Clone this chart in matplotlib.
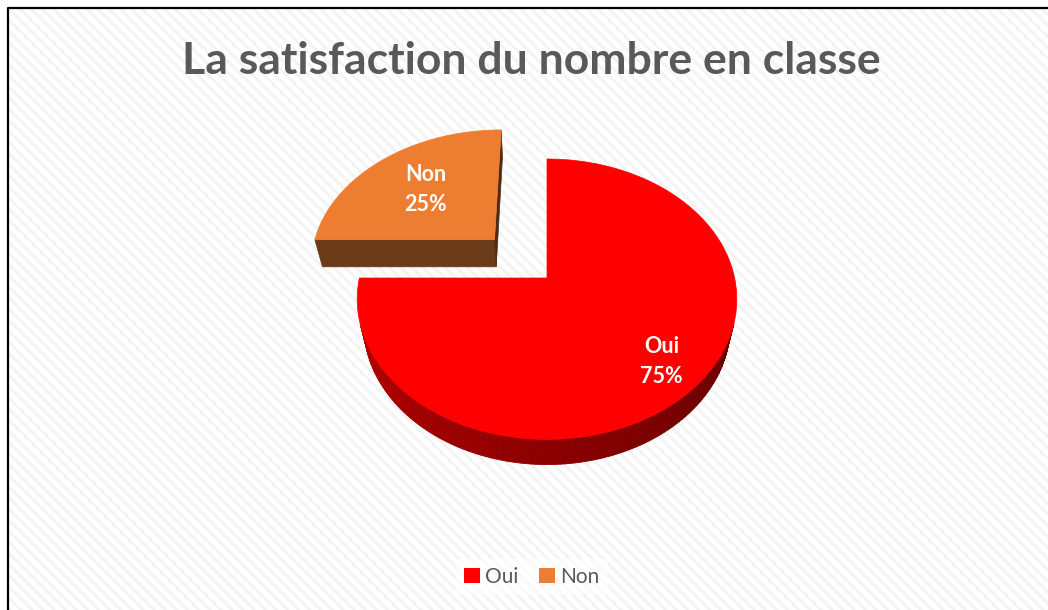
import numpy as np
import matplotlib
matplotlib.use("Agg")
import matplotlib.pyplot as plt
from matplotlib.patches import Polygon, Rectangle, Patch

# ---- data ----
categories = ["Oui", "Non"]
values = [75, 25]
colors = ["#FF0000", "#ED7D31"]
explode = [0.0, 0.413]
title = "La satisfaction du nombre en classe"

# ---- style ----
plt.rcParams["hatch.linewidth"] = 2.0
TITLE_COLOR = "#595959"
FONT = "Lato"

fig = plt.figure(figsize=(10.48, 6.10), dpi=100)
ax = fig.add_axes([0, 0, 1, 1])
ax.set_xlim(0, 1048)
ax.set_ylim(610, 0)
ax.axis("off")

# background with diagonal stripes
bg = Rectangle((8, 8), 1100, 700, facecolor="white", edgecolor="#F3F3F3",
               hatch="\\\\\\", lw=0, zorder=0)
ax.add_patch(bg)
ax.plot([8, 8, 1048], [610, 8, 8], color="black", lw=1.6, zorder=1,
        solid_capstyle="butt")

# ---- simple perspective camera ----
elev = np.deg2rad(46.9)
D, F, H = 4.52, 848.0, 0.218
cx, cy = 547.0, 278.0
cam = np.array([0.0, -D * np.cos(elev), D * np.sin(elev)])
fwd = np.array([0.0, np.cos(elev), -np.sin(elev)])
up = np.array([0.0, np.sin(elev), np.cos(elev)])
right = np.array([1.0, 0.0, 0.0])


def proj(p):
    d = np.asarray(p, float) - cam
    depth = d @ fwd
    return cx + F * (d @ right) / depth, cy - F * (d @ up) / depth


def visible(p, normal):
    return (cam - np.asarray(p, float)) @ np.asarray(normal, float) > 0


fracs = np.array(values, float) / np.sum(values)
starts = np.concatenate([[0], np.cumsum(fracs)[:-1]]) * 2 * np.pi
ends = starts + fracs * 2 * np.pi

slices = []
for i in range(len(values)):
    mid = 0.5 * (starts[i] + ends[i])
    off = explode[i] * np.array([np.sin(mid), np.cos(mid), 0.0])
    slices.append((i, starts[i], ends[i], mid, off))
# back-most first
slices.sort(key=lambda s: -s[4][1])

for i, a0, a1, mid, off in slices:
    n = 200
    phis = np.linspace(a0, a1, n)
    top = [off + np.array([np.sin(p), np.cos(p), 0.0]) for p in phis]
    bot = [t + np.array([0, 0, -H]) for t in top]
    center_t = off.copy()
    center_b = off + np.array([0, 0, -H])
    z = 2 + (1 - off[1])
    # outer curved side
    for j in range(n - 1):
        pm = 0.5 * (phis[j] + phis[j + 1])
        nrm = [np.sin(pm), np.cos(pm), 0]
        if not visible(top[j], nrm):
            continue
        if i == 0:
            t = (np.pi * 1.5 - pm) / np.pi  # 0 at left, 1 at right
            inten = (190 - 100 * t) / 255.0
            col = (inten, 0, 0)
        else:
            col = "#6B3A18"
        quad = [proj(top[j]), proj(top[j + 1]), proj(bot[j + 1]), proj(bot[j])]
        ax.add_patch(Polygon(quad, closed=True, facecolor=col, edgecolor=col,
                             lw=0.6, zorder=z))
    # cut faces
    for ang, sgn in ((a0, -1), (a1, 1)):
        edge_t = off + np.array([np.sin(ang), np.cos(ang), 0.0])
        edge_b = edge_t + np.array([0, 0, -H])
        nrm = sgn * np.array([np.cos(ang), -np.sin(ang), 0.0])
        if visible(edge_t, nrm) and abs((cam - edge_t) @ nrm) > 1e-6:
            if i == 0:
                col = "#8B0000"
            else:
                # front face lit brown, side face darker
                col = "#6B3A18" if abs(nrm[1]) > 0.5 else "#4E2A10"
            quad = [proj(center_t), proj(edge_t), proj(edge_b), proj(center_b)]
            ax.add_patch(Polygon(quad, closed=True, facecolor=col,
                                 edgecolor=col, lw=0.5, zorder=z + 0.1))
    # top face
    pts = [proj(center_t)] + [proj(t) for t in top]
    ax.add_patch(Polygon(pts, closed=True, facecolor=colors[i],
                         edgecolor=colors[i], lw=0.5, zorder=z + 0.2))
    # label
    r = 0.79 if explode[i] == 0 else 0.60
    lp = off + r * np.array([np.sin(mid), np.cos(mid), 0.0])
    lx, ly = proj(lp)
    ax.text(lx, ly, f"{categories[i]}\n{values[i]}%", ha="center",
            va="center", color="white", fontsize=15.5, fontweight="bold",
            family=FONT, linespacing=1.55, zorder=10)

# title
ax.text(531, 61, title, ha="center", va="center", fontsize=32,
        fontweight="bold", color=TITLE_COLOR, family=FONT, zorder=10)

# legend
handles = [Patch(facecolor=colors[i], edgecolor="none", label=categories[i])
           for i in range(len(categories))]
leg = ax.legend(handles=handles, loc="center", ncol=2,
                bbox_to_anchor=(532 / 1048, 1 - 577 / 610),
                frameon=True, facecolor="white", edgecolor="none",
                framealpha=0.6, fancybox=False, handlelength=0.75,
                handleheight=0.75, handletextpad=0.25, columnspacing=1.0,
                prop={"family": FONT, "size": 15})
for t in leg.get_texts():
    t.set_color(TITLE_COLOR)

fig.savefig("out.png", dpi=100)
